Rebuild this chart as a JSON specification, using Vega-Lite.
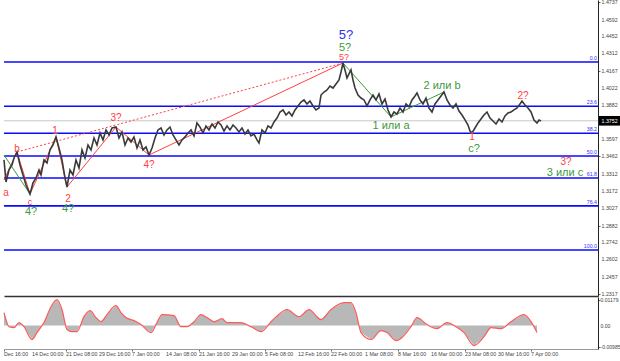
{
  "$schema": "https://vega.github.io/schema/vega-lite/v6.json",
  "padding": 0,
  "spacing": 0,
  "background": "white",
  "config": {
    "view": {"stroke": null},
    "font": "Liberation Sans",
    "axis": {"labelFont": "Liberation Sans", "labelColor": "#444", "labelFontSize": 5.3, "tickColor": "#666", "tickSize": 2, "domainColor": "#222", "grid": false, "title": null}
  },
  "datasets": {
    "price": [
      {"x":0,"p":1.3427},{"x":2,"p":1.3244},{"x":5,"p":1.3344},{"x":8,"p":1.3385},{"x":10,"p":1.3443},{"x":13,"p":1.3493},{"x":16,"p":1.3385},{"x":19,"p":1.3302},{"x":22,"p":1.3219},{"x":26,"p":1.3144},{"x":29,"p":1.3236},{"x":32,"p":1.3277},{"x":35,"p":1.3344},{"x":37,"p":1.3302},{"x":40,"p":1.3427},{"x":43,"p":1.3402},{"x":46,"p":1.3510},{"x":49,"p":1.3551},{"x":52,"p":1.3618},{"x":55,"p":1.3526},{"x":58,"p":1.3427},{"x":61,"p":1.3277},{"x":63,"p":1.3202},{"x":66,"p":1.3344},{"x":69,"p":1.3302},{"x":72,"p":1.3427},{"x":75,"p":1.3360},{"x":78,"p":1.3510},{"x":81,"p":1.3443},{"x":84,"p":1.3551},{"x":87,"p":1.3510},{"x":90,"p":1.3609},{"x":93,"p":1.3551},{"x":96,"p":1.3651},{"x":99,"p":1.3593},{"x":102,"p":1.3676},{"x":105,"p":1.3634},{"x":108,"p":1.3692},{"x":112,"p":1.3700},{"x":115,"p":1.3609},{"x":118,"p":1.3659},{"x":121,"p":1.3551},{"x":124,"p":1.3609},{"x":127,"p":1.3576},{"x":130,"p":1.3618},{"x":133,"p":1.3526},{"x":136,"p":1.3593},{"x":139,"p":1.3510},{"x":142,"p":1.3535},{"x":145,"p":1.3468},{"x":148,"p":1.3526},{"x":151,"p":1.3609},{"x":154,"p":1.3676},{"x":157,"p":1.3692},{"x":160,"p":1.3634},{"x":163,"p":1.3676},{"x":166,"p":1.3700},{"x":169,"p":1.3634},{"x":172,"p":1.3593},{"x":175,"p":1.3551},{"x":178,"p":1.3593},{"x":181,"p":1.3618},{"x":184,"p":1.3651},{"x":187,"p":1.3676},{"x":190,"p":1.3626},{"x":193,"p":1.3734},{"x":196,"p":1.3700},{"x":199,"p":1.3651},{"x":202,"p":1.3709},{"x":205,"p":1.3676},{"x":208,"p":1.3725},{"x":211,"p":1.3692},{"x":214,"p":1.3742},{"x":217,"p":1.3717},{"x":220,"p":1.3667},{"x":223,"p":1.3709},{"x":226,"p":1.3676},{"x":229,"p":1.3717},{"x":232,"p":1.3692},{"x":235,"p":1.3659},{"x":238,"p":1.3692},{"x":241,"p":1.3642},{"x":244,"p":1.3676},{"x":247,"p":1.3626},{"x":250,"p":1.3642},{"x":253,"p":1.3593},{"x":255,"p":1.3568},{"x":258,"p":1.3676},{"x":261,"p":1.3651},{"x":264,"p":1.3709},{"x":267,"p":1.3692},{"x":270,"p":1.3742},{"x":273,"p":1.3775},{"x":276,"p":1.3825},{"x":279,"p":1.3842},{"x":282,"p":1.3800},{"x":285,"p":1.3825},{"x":288,"p":1.3792},{"x":291,"p":1.3842},{"x":294,"p":1.3875},{"x":297,"p":1.3908},{"x":300,"p":1.3925},{"x":303,"p":1.3892},{"x":306,"p":1.3916},{"x":309,"p":1.3875},{"x":312,"p":1.3842},{"x":315,"p":1.3858},{"x":317,"p":1.3966},{"x":320,"p":1.3991},{"x":323,"p":1.4008},{"x":326,"p":1.4041},{"x":329,"p":1.4024},{"x":332,"p":1.4058},{"x":335,"p":1.4091},{"x":337,"p":1.4157},{"x":339,"p":1.4232},{"x":341,"p":1.4174},{"x":343,"p":1.4107},{"x":345,"p":1.4141},{"x":347,"p":1.4174},{"x":349,"p":1.4091},{"x":351,"p":1.4024},{"x":354,"p":1.3966},{"x":357,"p":1.3941},{"x":360,"p":1.3925},{"x":363,"p":1.3875},{"x":366,"p":1.3925},{"x":369,"p":1.3966},{"x":372,"p":1.3925},{"x":375,"p":1.3975},{"x":378,"p":1.3892},{"x":381,"p":1.3933},{"x":384,"p":1.3842},{"x":387,"p":1.3784},{"x":390,"p":1.3825},{"x":393,"p":1.3808},{"x":396,"p":1.3858},{"x":399,"p":1.3825},{"x":402,"p":1.3892},{"x":405,"p":1.3867},{"x":408,"p":1.3925},{"x":411,"p":1.3958},{"x":413,"p":1.3983},{"x":416,"p":1.3925},{"x":419,"p":1.3892},{"x":422,"p":1.3941},{"x":425,"p":1.3858},{"x":428,"p":1.3825},{"x":431,"p":1.3892},{"x":434,"p":1.3925},{"x":437,"p":1.3958},{"x":440,"p":1.3991},{"x":443,"p":1.3925},{"x":446,"p":1.3883},{"x":449,"p":1.3858},{"x":452,"p":1.3892},{"x":455,"p":1.3833},{"x":458,"p":1.3800},{"x":461,"p":1.3759},{"x":464,"p":1.3717},{"x":466,"p":1.3667},{"x":468,"p":1.3651},{"x":471,"p":1.3692},{"x":474,"p":1.3734},{"x":477,"p":1.3767},{"x":480,"p":1.3800},{"x":483,"p":1.3825},{"x":486,"p":1.3775},{"x":489,"p":1.3750},{"x":492,"p":1.3725},{"x":495,"p":1.3767},{"x":498,"p":1.3742},{"x":501,"p":1.3792},{"x":504,"p":1.3817},{"x":507,"p":1.3825},{"x":510,"p":1.3842},{"x":513,"p":1.3858},{"x":516,"p":1.3892},{"x":518,"p":1.3916},{"x":521,"p":1.3883},{"x":524,"p":1.3858},{"x":527,"p":1.3825},{"x":530,"p":1.3759},{"x":533,"p":1.3734},{"x":535,"p":1.3759},{"x":537,"p":1.3750}
    ],
    "fib": [
      {"level":"0.0","p":1.4240},{"level":"23.6","p":1.3873},{"level":"38.2","p":1.3649},{"level":"50.0","p":1.3460},{"level":"61.8","p":1.3277},{"level":"76.4","p":1.3045},{"level":"100.0","p":1.2679}
    ],
    "waves": [
      {"g":"r","x":0,"p":1.3260,"c":"#ff4040"},{"g":"r","x":13,"p":1.3493,"c":"#ff4040"},{"g":"r","x":26,"p":1.3144,"c":"#ff4040"},{"g":"r","x":52,"p":1.3618,"c":"#ff4040"},{"g":"r","x":63,"p":1.3202,"c":"#ff4040"},{"g":"r","x":112,"p":1.3700,"c":"#ff4040"},{"g":"r","x":145,"p":1.3468,"c":"#ff4040"},{"g":"r","x":339,"p":1.4232,"c":"#ff4040"},
      {"g":"g1","x":0,"p":1.3468,"c":"#3c9a3c"},{"g":"g1","x":26,"p":1.3144,"c":"#3c9a3c"},
      {"g":"g2","x":339,"p":1.4232,"c":"#3c9a3c"},{"g":"g2","x":387,"p":1.3784,"c":"#3c9a3c"},{"g":"g2","x":440,"p":1.3991,"c":"#3c9a3c"}
    ],
    "dotted": [
      {"x":13,"p":1.3493},{"x":339,"p":1.4232}
    ],
    "labels": [
      {"x":342,"p":1.4465,"t":"5?","c":"#3030ee","s":13},
      {"x":341,"p":1.4360,"t":"5?","c":"#3c9a3c","s":11},
      {"x":340,"p":1.4280,"t":"5?","c":"#ff4040","s":9},
      {"x":13,"p":1.3520,"t":"b","c":"#ff4040","s":10},
      {"x":2,"p":1.3153,"t":"a","c":"#ff4040","s":10},
      {"x":26,"p":1.3078,"t":"c","c":"#ff4040","s":9},
      {"x":27,"p":1.2995,"t":"4?","c":"#3c9a3c","s":11},
      {"x":51,"p":1.3665,"t":"1","c":"#ff4040","s":10},
      {"x":64,"p":1.3105,"t":"2","c":"#ff4040","s":10},
      {"x":64,"p":1.3018,"t":"4?","c":"#3c9a3c","s":11},
      {"x":112,"p":1.3772,"t":"3?","c":"#ff4040","s":10},
      {"x":145,"p":1.3385,"t":"4?","c":"#ff4040","s":10},
      {"x":387,"p":1.3712,"t":"1 или a","c":"#3c9a3c","s":11},
      {"x":438,"p":1.4041,"t":"2 или b","c":"#3c9a3c","s":11},
      {"x":468,"p":1.3618,"t":"1","c":"#ff4040","s":10},
      {"x":470,"p":1.3515,"t":"c?","c":"#3c9a3c","s":11},
      {"x":519,"p":1.3960,"t":"2?","c":"#ff4040","s":10},
      {"x":562,"p":1.3410,"t":"3?","c":"#ff4040","s":10},
      {"x":561,"p":1.3315,"t":"3 или c","c":"#3c9a3c","s":11}
    ],
    "yticks": [
      {"p":1.4737,"t":"1.4737"},{"p":1.4592,"t":"1.4592"},{"p":1.4452,"t":"1.4452"},{"p":1.4312,"t":"1.4312"},{"p":1.4167,"t":"1.4167"},{"p":1.4022,"t":"1.4022"},{"p":1.3882,"t":"1.3882"},{"p":1.3597,"t":"1.3597"},{"p":1.3462,"t":"1.3462"},{"p":1.3312,"t":"1.3312"},{"p":1.3172,"t":"1.3172"},{"p":1.3027,"t":"1.3027"},{"p":1.2882,"t":"1.2882"},{"p":1.2742,"t":"1.2742"},{"p":1.2602,"t":"1.2602"},{"p":1.2457,"t":"1.2457"},{"p":1.2317,"t":"1.2317"}
    ],
    "mticks": [
      {"v":0.01179,"t":"0.01179"},{"v":0,"t":"0.00"},{"v":-0.00985,"t":"-0.00985"}
    ],
    "xticks": [
      {"x":0,"t":"Dec 16:00"},{"x":28,"t":"14 Dec 00:00"},{"x":62,"t":"21 Dec 08:00"},{"x":95,"t":"29 Dec 16:00"},{"x":128,"t":"7 Jan 00:00"},{"x":162,"t":"14 Jan 08:00"},{"x":195,"t":"21 Jan 16:00"},{"x":228,"t":"29 Jan 00:00"},{"x":261,"t":"5 Feb 08:00"},{"x":294,"t":"12 Feb 16:00"},{"x":327,"t":"22 Feb 00:00"},{"x":361,"t":"1 Mar 08:00"},{"x":394,"t":"8 Mar 16:00"},{"x":427,"t":"16 Mar 00:00"},{"x":461,"t":"23 Mar 08:00"},{"x":494,"t":"30 Mar 16:00"},{"x":527,"t":"7 Apr 00:00"}
    ],
    "bid": [{"p":1.3752,"lo":1.3712,"hi":1.3792,"x0":595,"x1":620,"t":"1.3752"}],
    "macd": [
      {"x":0,"v":0.0060},{"x":5,"v":-0.0005},{"x":10,"v":-0.0009},{"x":15,"v":0.0014},{"x":20,"v":-0.0005},{"x":28,"v":-0.0064},{"x":33,"v":-0.0032},{"x":40,"v":0.0014},{"x":47,"v":0.0087},{"x":53,"v":0.0120},{"x":58,"v":0.0074},{"x":63,"v":-0.0018},{"x":68,"v":-0.0028},{"x":73,"v":-0.0028},{"x":80,"v":0.0041},{"x":86,"v":0.0069},{"x":92,"v":0.0037},{"x":97,"v":0.0018},{"x":103,"v":0.0051},{"x":112,"v":0.0092},{"x":117,"v":0.0060},{"x":122,"v":0.0037},{"x":130,"v":0.0023},{"x":137,"v":0.0005},{"x":147,"v":-0.0032},{"x":153,"v":0.0014},{"x":158,"v":0.0051},{"x":170,"v":0.0046},{"x":177,"v":-0.0005},{"x":183,"v":-0.0005},{"x":190,"v":0.0018},{"x":197,"v":0.0051},{"x":203,"v":0.0037},{"x":210,"v":0.0018},{"x":218,"v":0.0032},{"x":223,"v":0.0014},{"x":230,"v":0.0014},{"x":237,"v":0.0014},{"x":247,"v":-0.0005},{"x":257,"v":-0.0028},{"x":267,"v":0.0018},{"x":272,"v":0.0040},{"x":283,"v":0.0074},{"x":295,"v":0.0041},{"x":305,"v":0.0074},{"x":317,"v":0.0028},{"x":327,"v":0.0074},{"x":340,"v":0.0106},{"x":347,"v":0.0106},{"x":352,"v":0.0060},{"x":357,"v":-0.0032},{"x":367,"v":-0.0064},{"x":377,"v":-0.0023},{"x":383,"v":-0.0032},{"x":392,"v":-0.0069},{"x":398,"v":-0.0055},{"x":407,"v":-0.0005},{"x":413,"v":0.0037},{"x":423,"v":0.0005},{"x":433,"v":-0.0014},{"x":443,"v":0.0014},{"x":452,"v":-0.0005},{"x":460,"v":-0.0032},{"x":470,"v":-0.0092},{"x":480,"v":-0.0051},{"x":487,"v":-0.0009},{"x":497,"v":-0.0014},{"x":507,"v":0.0018},{"x":520,"v":0.0051},{"x":527,"v":0.0018},{"x":533,"v":-0.0032}
    ]
  },
  "vconcat": [
    {
      "width": 594,
      "height": 296,
      "layer": [
        {
          "data": {"name": "fib"},
          "mark": {"type": "rule", "color": "#0a0aff", "strokeWidth": 1.6},
          "encoding": {
            "y": {"field": "p", "type": "quantitative", "scale": {"domain": [1.2297, 1.4755], "zero": false, "nice": false},
              "axis": {"orient": "right", "values": [1.4737,1.4592,1.4452,1.4312,1.4167,1.4022,1.3882,1.3597,1.3462,1.3312,1.3172,1.3027,1.2882,1.2742,1.2602,1.2457,1.2317], "labels": false, "tickSize": 2}}
          }
        },
        {
          "data": {"name": "yticks"},
          "mark": {"type": "text", "color": "#444", "fontSize": 5.3, "font": "Liberation Sans Narrow, Liberation Sans", "align": "left", "baseline": "middle"},
          "encoding": {
            "x": {"datum": 597.5, "type": "quantitative"},
            "y": {"field": "p", "type": "quantitative"},
            "text": {"field": "t"}
          }
        },
        {
          "data": {"name": "fib"},
          "mark": {"type": "text", "color": "#3333ff", "fontSize": 5.3, "font": "Liberation Sans Narrow, Liberation Sans", "align": "right", "baseline": "bottom", "dy": -1},
          "encoding": {
            "x": {"datum": 593, "type": "quantitative"},
            "y": {"field": "p", "type": "quantitative"},
            "text": {"field": "level"}
          }
        },
        {
          "data": {"name": "bid"},
          "mark": {"type": "rule", "color": "#c8c8c8", "strokeWidth": 1},
          "encoding": {"y": {"field": "p", "type": "quantitative"}}
        },
        {
          "data": {"name": "dotted"},
          "mark": {"type": "line", "color": "#ff4040", "strokeWidth": 1, "strokeDash": [2, 2]},
          "encoding": {
            "x": {"field": "x", "type": "quantitative"},
            "y": {"field": "p", "type": "quantitative"}
          }
        },
        {
          "data": {"name": "waves"},
          "mark": {"type": "line", "strokeWidth": 1},
          "encoding": {
            "x": {"field": "x", "type": "quantitative"},
            "y": {"field": "p", "type": "quantitative"},
            "detail": {"field": "g"},
            "color": {"field": "c", "type": "nominal", "scale": null}
          }
        },
        {
          "data": {"name": "price"},
          "mark": {"type": "line", "color": "#3a3a3a", "strokeWidth": 1.6},
          "encoding": {
            "x": {"field": "x", "type": "quantitative", "scale": {"domain": [0, 594], "nice": false, "zero": false},
              "axis": {"labels": false, "ticks": false, "domain": true, "domainColor": "#333", "domainWidth": 1.5, "orient": "bottom"}},
            "y": {"field": "p", "type": "quantitative"}
          }
        },
        {
          "data": {"name": "labels"},
          "mark": {"type": "text", "font": "Liberation Sans", "align": "center", "baseline": "middle"},
          "encoding": {
            "x": {"field": "x", "type": "quantitative"},
            "y": {"field": "p", "type": "quantitative"},
            "text": {"field": "t"},
            "color": {"field": "c", "type": "nominal", "scale": null},
            "size": {"field": "s", "type": "quantitative", "scale": null}
          }
        },
        {
          "data": {"name": "bid"},
          "mark": {"type": "rect", "color": "#000"},
          "encoding": {
            "x": {"field": "x0", "type": "quantitative"},
            "x2": {"field": "x1"},
            "y": {"field": "lo", "type": "quantitative"},
            "y2": {"field": "hi"}
          }
        },
        {
          "data": {"name": "bid"},
          "mark": {"type": "text", "color": "#fff", "fontSize": 5.3, "font": "Liberation Sans Narrow, Liberation Sans", "align": "left", "baseline": "middle", "dx": 2.5},
          "encoding": {
            "x": {"field": "x0", "type": "quantitative"},
            "y": {"field": "p", "type": "quantitative"},
            "text": {"field": "t"}
          }
        }
      ]
    },
    {
      "width": 594,
      "height": 52,
      "layer": [
        {
          "data": {"name": "macd"},
          "mark": {"type": "area", "color": "#b8b8b8", "opacity": 1},
          "encoding": {
            "x": {"field": "x", "type": "quantitative", "scale": {"domain": [0, 594], "nice": false, "zero": false},
              "axis": {"orient": "bottom", "values": [0,28,62,95,128,162,195,228,261,294,327,361,394,427,461,494,527], "labels": false, "tickSize": 2, "domainColor": "#999"}},
            "y": {"field": "v", "type": "quantitative", "scale": {"domain": [-0.01077, 0.01317], "zero": false, "nice": false},
              "axis": {"orient": "right", "values": [0.01179, 0, -0.00985], "labels": false, "tickSize": 2}},
            "y2": {"datum": 0}
          }
        },
        {
          "data": {"name": "macd"},
          "mark": {"type": "line", "color": "#ff5a5a", "strokeWidth": 1.2, "interpolate": "monotone"},
          "encoding": {
            "x": {"field": "x", "type": "quantitative"},
            "y": {"field": "v", "type": "quantitative"}
          }
        },
        {
          "data": {"name": "mticks"},
          "mark": {"type": "text", "color": "#444", "fontSize": 5.1, "font": "Liberation Sans Narrow, Liberation Sans", "align": "left", "baseline": "middle"},
          "encoding": {
            "x": {"datum": 596.5, "type": "quantitative"},
            "y": {"field": "v", "type": "quantitative"},
            "text": {"field": "t"}
          }
        },
        {
          "data": {"name": "xticks"},
          "mark": {"type": "text", "color": "#444", "fontSize": 5.3, "font": "Liberation Sans Narrow, Liberation Sans", "align": "left", "baseline": "middle"},
          "encoding": {
            "x": {"field": "x", "type": "quantitative"},
            "y": {"datum": -0.0133, "type": "quantitative"},
            "text": {"field": "t"}
          }
        }
      ]
    }
  ]
}
